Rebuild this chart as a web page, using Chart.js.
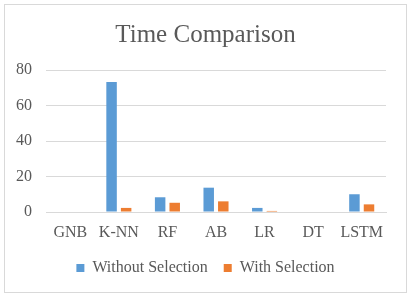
<!DOCTYPE html>
<html>
<head>
<meta charset="utf-8">
<script src="https://cdn.jsdelivr.net/npm/chart.js@4/dist/chart.umd.min.js"></script>
<style>
  html, body { margin: 0; padding: 0; background: #ffffff; }
  #wrap { position: relative; width: 411px; height: 298px; }
</style>
</head>
<body>
<div id="wrap"><canvas id="c" width="411" height="298"></canvas></div>
<script>
const categories = ["GNB", "K-NN", "RF", "AB", "LR", "DT", "LSTM"];
const withoutSelection = [0, 73.3, 8.3, 13.7, 2.3, 0, 10.0];
const withSelection = [0, 2.3, 5.2, 6.0, 0.6, 0, 4.3];
const seriesNames = ["Without Selection", "With Selection"];
const yTicks = [0, 20, 40, 60, 80];

const FONT = "'Liberation Serif', 'Times New Roman', serif";
const TEXT = '#595959';
Chart.defaults.font.family = FONT;
Chart.defaults.color = TEXT;

const borderPlugin = {
  id: 'outerBorder',
  afterLayout(chart) {
    // center title and legend on the full canvas width
    [chart.titleBlock, chart.legend].forEach(b => {
      if (b) { b.left = 0; b.right = chart.width; }
    });
  },
  beforeDraw(chart) {
    const ctx = chart.ctx;
    ctx.save();
    ctx.fillStyle = '#ffffff';
    ctx.fillRect(0, 0, chart.width, chart.height);
    ctx.strokeStyle = '#d9d9d9';
    ctx.lineWidth = 1;
    ctx.strokeRect(4.5, 4.5, 402, 288);
    ctx.restore();
  }
};

new Chart(document.getElementById('c'), {
  type: 'bar',
  data: {
    labels: categories,
    datasets: [
      { label: seriesNames[0], data: withoutSelection, backgroundColor: '#5B9BD5', borderWidth: 0, categoryPercentage: 0.6, barPercentage: 0.72 },
      { label: seriesNames[1], data: withSelection, backgroundColor: '#ED7D31', borderWidth: 0, categoryPercentage: 0.6, barPercentage: 0.72 }
    ]
  },
  options: {
    responsive: false,
    animation: false,
    devicePixelRatio: 1,
    layout: { padding: { left: 16, right: 25, top: 0, bottom: 12 } },
    plugins: {
      title: {
        display: true,
        text: 'Time Comparison',
        color: TEXT,
        font: { family: FONT, size: 25, weight: 'normal' },
        padding: { top: 20, bottom: 20 }
      },
      legend: {
        position: 'bottom',
        labels: {
          color: TEXT,
          font: { family: FONT, size: 16, weight: 'normal' },
          boxWidth: 8,
          boxHeight: 8,
          padding: 16
        }
      },
      tooltip: { enabled: false }
    },
    scales: {
      x: {
        grid: { display: false, drawTicks: false },
        border: { display: true, color: '#d9d9d9', width: 1 },
        ticks: { color: TEXT, font: { family: FONT, size: 16 }, padding: 11, maxRotation: 0, autoSkip: false },
        afterFit(scale) { scale.height = 32; }
      },
      y: {
        min: 0,
        max: 80,
        afterBuildTicks(scale) { scale.ticks = yTicks.map(v => ({ value: v })); },
        grid: { color: '#d9d9d9', lineWidth: 1, drawTicks: false },
        border: { display: false },
        ticks: { color: TEXT, font: { family: FONT, size: 16 }, padding: 14 },
        afterFit(scale) { scale.width = 30; }
      }
    }
  },
  plugins: [borderPlugin]
});
</script>
</body>
</html>
